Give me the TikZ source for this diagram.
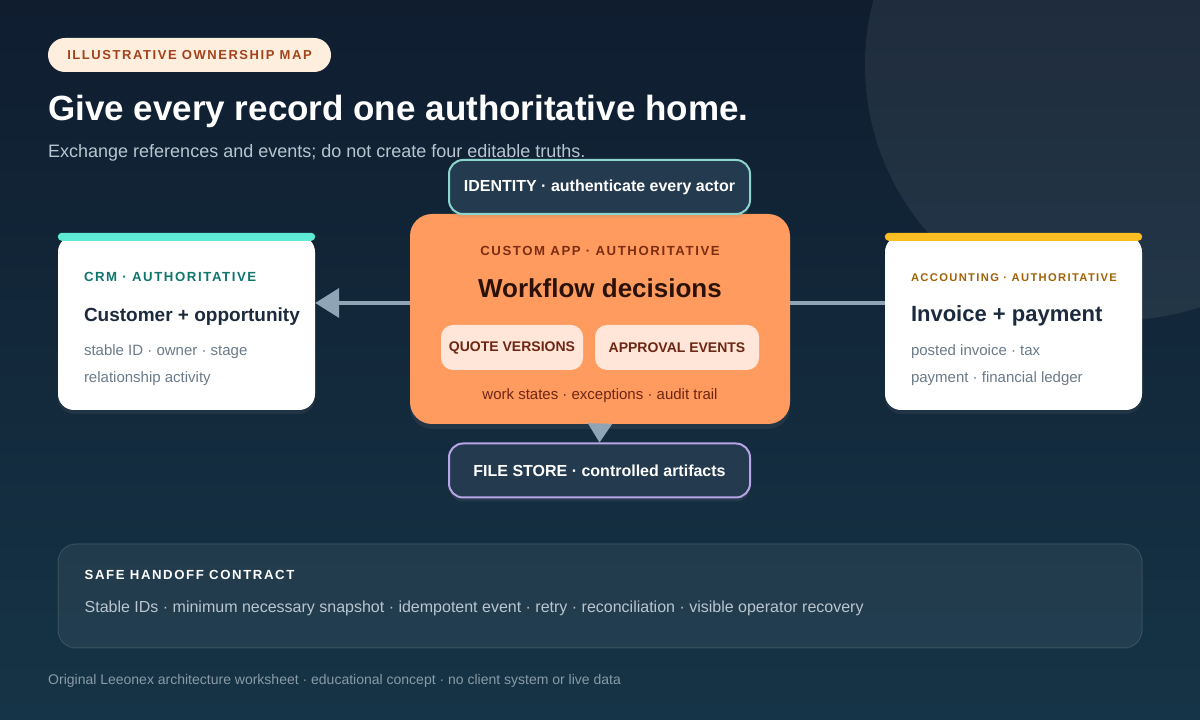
\documentclass[tikz,border=0pt]{standalone}
\usepackage{fontspec}
\setmainfont{Liberation Sans}
\newfontfamily\capsfont[LetterSpace=12]{Liberation Sans}
\usetikzlibrary{positioning}
\usetikzlibrary{shapes.geometric, arrows.meta, shadows}

\definecolor{bgtop}{HTML}{0F1D2F}
\definecolor{bgbot}{HTML}{163447}
\definecolor{pillfill}{HTML}{FDEEDD}
\definecolor{pilltext}{HTML}{A3431C}
\definecolor{subtext}{HTML}{B9C6CF}
\definecolor{slate}{HTML}{243A4F}
\definecolor{idline}{HTML}{8AD6CF}
\definecolor{fileline}{HTML}{B8A4E6}
\definecolor{appfill}{HTML}{FF9B5F}
\definecolor{apptag}{HTML}{7C2D12}
\definecolor{apphead}{HTML}{2A1208}
\definecolor{chipfill}{HTML}{FFE6D8}
\definecolor{chiptext}{HTML}{6E2614}
\definecolor{linkcol}{HTML}{8FA5B5}
\definecolor{crmbar}{HTML}{5EEAD4}
\definecolor{crmtag}{HTML}{0F766E}
\definecolor{acctbar}{HTML}{FBBF24}
\definecolor{accttag}{HTML}{A16207}
\definecolor{cardhead}{HTML}{1C2A3D}
\definecolor{carddetail}{HTML}{6B7B89}
\definecolor{foottext}{HTML}{8B9AA7}

\begin{document}
\begin{tikzpicture}[x=1pt,y=1pt]
\tikzstyle{card} = [rectangle, fill=white, rounded corners=16pt, minimum width=257pt, minimum height=174pt, inner sep=0pt, drop shadow={opacity=0.12, shadow xshift=0pt, shadow yshift=-4pt}]
\tikzstyle{tag} = [anchor=base west, inner sep=0pt, font=\capsfont\bfseries\fontsize{13.2}{15}\selectfont]
\tikzstyle{head} = [anchor=base west, inner sep=0pt, text=cardhead, font=\bfseries\fontsize{19}{22}\selectfont]
\tikzstyle{detail} = [anchor=base west, inner sep=0pt, text=carddetail, font=\fontsize{15}{18}\selectfont]
\tikzstyle{service} = [rectangle, fill=slate, draw, line width=2pt, rounded corners=14pt, minimum width=301pt, minimum height=54pt, text=white, font=\bfseries\fontsize{16}{19}\selectfont, drop shadow={opacity=0.15, shadow xshift=0pt, shadow yshift=-4pt}]
\tikzstyle{chip} = [rectangle, fill=chipfill, rounded corners=12pt, minimum height=45pt, text=chiptext, font=\bfseries\fontsize{14}{16}\selectfont]
\tikzstyle{link} = [linkcol, line width=4pt, -{Triangle[length=24pt, width=29pt]}]
\tikzstyle{line} = [linkcol, line width=4pt]

\useasboundingbox (0,0) rectangle (1200,720);
\shade[top color=bgtop, bottom color=bgbot] (0,0) rectangle (1200,720);
\begin{scope}
\clip (0,0) rectangle (1200,720);
\fill[white, opacity=0.07] (1120,655) circle (255);
\end{scope}

\node (pill) [rectangle, fill=pillfill, rounded corners=17pt, minimum width=283pt, minimum height=34pt, text=pilltext, font=\capsfont\bfseries\fontsize{13}{16}\selectfont] at (189.5,665) {ILLUSTRATIVE OWNERSHIP MAP};
\node (title) [anchor=base west, inner sep=0pt, text=white, font=\bfseries\fontsize{35}{40}\selectfont] at (48,599) {Give every record one authoritative home.};
\node (subtitle) [anchor=base west, inner sep=0pt, text=subtext, font=\fontsize{18}{21}\selectfont] at (48,562) {Exchange references and events; do not create four editable truths.};

\coordinate (lane) at (0,417);

\node (app) [rectangle, fill=appfill, rounded corners=22pt, minimum width=380pt, minimum height=210pt, drop shadow={opacity=0.15, shadow xshift=0pt, shadow yshift=-5pt}] at (600,401) {};
\node (apptag) [inner sep=0pt, anchor=base, text=apptag, font=\capsfont\bfseries\fontsize{13.2}{15}\selectfont] at ([yshift=-42pt]app.north) {CUSTOM APP · AUTHORITATIVE};
\node (apphead) [inner sep=0pt, anchor=base, text=apphead, font=\bfseries\fontsize{26}{30}\selectfont] at ([yshift=-84pt]app.north) {Workflow decisions};
\node (quote) [chip, minimum width=142pt] at (512,372.5) {QUOTE VERSIONS};
\node (approval) [chip, minimum width=164pt] at (677,372.5) {APPROVAL EVENTS};
\node (appfoot) [inner sep=0pt, anchor=base, text=chiptext, font=\fontsize{15}{18}\selectfont] at ([yshift=-186pt]app.north) {work states · exceptions · audit trail};

\node (identity) [service, draw=idline] at (599.5,533) {IDENTITY · authenticate every actor};
\node (files) [service, draw=fileline] at (599.5,249.5) {FILE STORE · controlled artifacts};

\node (crm) [card] at (186.5,397) {};
\fill[crmbar, rounded corners=4pt] ([yshift=3pt]crm.north west) rectangle ([yshift=-5pt]crm.north east);
\node (crmtag) [tag, text=crmtag] at ([xshift=26pt, yshift=-46pt]crm.north west) {CRM · AUTHORITATIVE};
\node (crmhead) [head] at ([xshift=26pt, yshift=-86pt]crm.north west) {Customer + opportunity};
\node (crmone) [detail] at ([xshift=26pt, yshift=-120pt]crm.north west) {stable ID · owner · stage};
\node (crmtwo) [detail] at ([xshift=26pt, yshift=-147pt]crm.north west) {relationship activity};

\node (acct) [card] at (1013.5,397) {};
\fill[acctbar, rounded corners=4pt] ([yshift=3pt]acct.north west) rectangle ([yshift=-5pt]acct.north east);
\node (accttag) [tag, text=accttag, font=\capsfont\bfseries\fontsize{11.2}{14}\selectfont] at ([xshift=26pt, yshift=-46pt]acct.north west) {ACCOUNTING · AUTHORITATIVE};
\node (accthead) [head, font=\bfseries\fontsize{22}{25}\selectfont] at ([xshift=26pt, yshift=-86pt]acct.north west) {Invoice + payment};
\node (acctone) [detail] at ([xshift=26pt, yshift=-120pt]acct.north west) {posted invoice · tax};
\node (accttwo) [detail] at ([xshift=26pt, yshift=-147pt]acct.north west) {payment · financial ledger};

\draw [link] (app.west |- lane) -- (crm.east |- lane);
\draw [line] (app.east |- lane) -- (acct.west |- lane);
\draw [linkcol, line width=2pt, -{Triangle[length=19pt, width=24pt]}] (app.south) -- (files.north);

\node (contract) [rectangle, fill=white, fill opacity=0.06, draw=white, draw opacity=0.12, line width=1pt, rounded corners=18pt, minimum width=1084pt, minimum height=104pt] at (600,124) {};
\node (contag) [anchor=base west, inner sep=0pt, text=white, font=\capsfont\bfseries\fontsize{13.2}{16}\selectfont] at ([xshift=27pt, yshift=-36pt]contract.north west) {SAFE HANDOFF CONTRACT};
\node (conline) [anchor=base west, inner sep=0pt, text=subtext, font=\fontsize{16}{19}\selectfont] at ([xshift=27pt, yshift=-69pt]contract.north west) {Stable IDs · minimum necessary snapshot · idempotent event · retry · reconciliation · visible operator recovery};

\node (footer) [anchor=base west, inner sep=0pt, text=foottext, font=\fontsize{14}{16}\selectfont] at (48,35) {Original Leeonex architecture worksheet · educational concept · no client system or live data};
\end{tikzpicture}
\end{document}
